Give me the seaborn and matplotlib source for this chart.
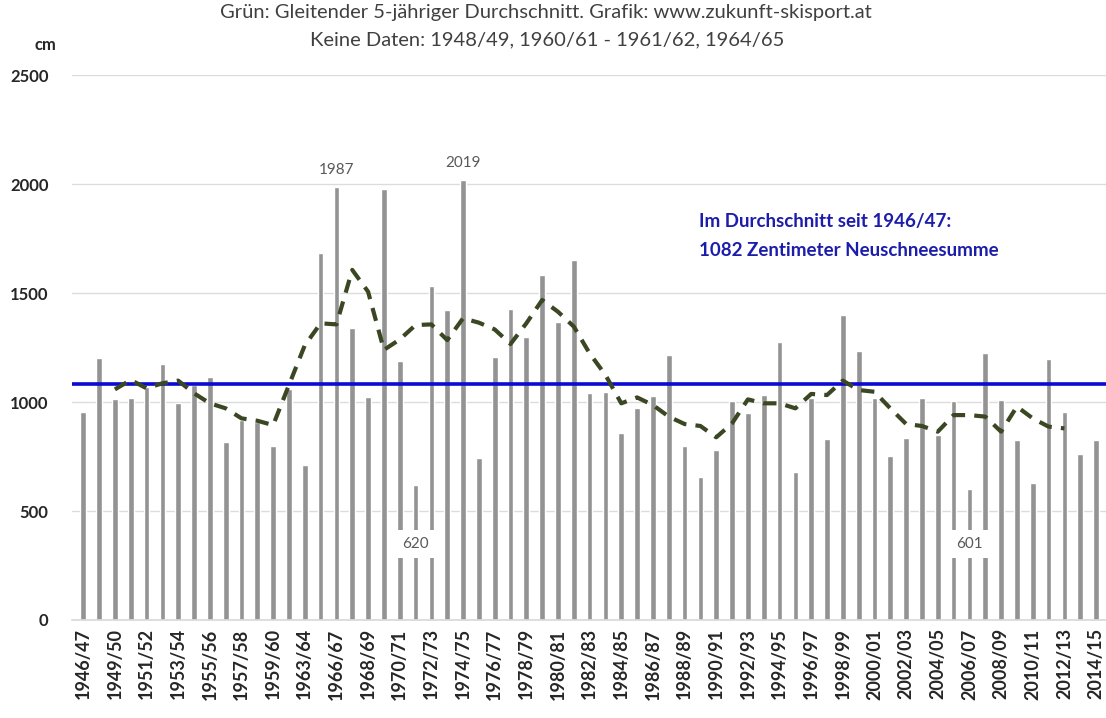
import numpy as np
import pandas as pd
import matplotlib
matplotlib.use("Agg")
import matplotlib.pyplot as plt
import seaborn as sns

# Seasons (no data for 1948/49, 1960/61, 1961/62, 1964/65)
seasons = [
    "1946/47", "1947/48", "1949/50", "1950/51", "1951/52", "1952/53", "1953/54",
    "1954/55", "1955/56", "1956/57", "1957/58", "1958/59", "1959/60", "1962/63",
    "1963/64", "1965/66", "1966/67", "1967/68", "1968/69", "1969/70", "1970/71",
    "1971/72", "1972/73", "1973/74", "1974/75", "1975/76", "1976/77", "1977/78",
    "1978/79", "1979/80", "1980/81", "1981/82", "1982/83", "1983/84", "1984/85",
    "1985/86", "1986/87", "1987/88", "1988/89", "1989/90", "1990/91", "1991/92",
    "1992/93", "1993/94", "1994/95", "1995/96", "1996/97", "1997/98", "1998/99",
    "1999/00", "2000/01", "2001/02", "2002/03", "2003/04", "2004/05", "2005/06",
    "2006/07", "2007/08", "2008/09", "2009/10", "2010/11", "2011/12", "2012/13",
    "2013/14", "2014/15",
]

# Neuschneesumme per season in cm
snow = [
    956, 1200, 1012, 1017, 1070, 1174, 997, 1080, 1116, 818,
    917, 910, 798, 1060, 711, 1682, 1987, 1338, 1024, 1976,
    1188, 620, 1534, 1422, 2019, 742, 1208, 1425, 1300, 1583,
    1369, 1651, 1043, 1047, 856, 971, 1028, 1216, 798, 654,
    780, 1006, 948, 1032, 1277, 680, 1017, 829, 1399, 1235,
    1017, 752, 836, 1017, 849, 1005, 601, 1223, 1009, 826,
    630, 1196, 956, 761, 826,
]

# Gleitender 5-jaehriger Durchschnitt, 1949/50 .. 2012/13
avg_start = "1949/50"
avg_values = [
    1058, 1101, 1063, 1086, 1098, 1040, 994, 971, 925, 914,
    894, 1078, 1260, 1361, 1356, 1606, 1506, 1239, 1287, 1353,
    1356, 1284, 1384, 1364, 1333, 1266, 1361, 1468, 1414, 1346,
    1223, 1124, 994, 1021, 986, 933, 899, 890, 838, 902,
    1012, 994, 994, 971, 1037, 1032, 1098, 1055, 1047, 971,
    899, 890, 864, 940, 940, 933, 864, 979, 925, 887,
    879,
]

mean_all = 1082
label_seasons = ["1966/67", "1974/75"]
box_seasons = ["1971/72", "2006/07"]

df = pd.DataFrame({"season": seasons, "snow": snow})
i0 = seasons.index(avg_start)
avg_df = pd.DataFrame({"pos": np.arange(i0, i0 + len(avg_values)), "avg": avg_values})

sns.set_theme(style="white")
plt.rcParams["font.family"] = ["Lato", "DejaVu Sans"]

fig = plt.figure(figsize=(11.06, 7.18), dpi=100)
ax = fig.add_axes([0.0651, 0.1365, 0.9349, 0.759])

sns.barplot(data=df, x="season", y="snow", order=seasons, color="#939393",
            saturation=1, width=0.36, ax=ax, zorder=2)
sns.lineplot(data=avg_df, x="pos", y="avg", ax=ax, color="#3b4722",
             linewidth=3, linestyle=(0, (3.2, 2.2)), zorder=4)
ax.axhline(mean_all, color="#0a0ad2", linewidth=2.6, zorder=3)

ax.set_ylim(0, 2500)
ax.set_xlim(-0.71, 64.63)
ax.set_yticks([0, 500, 1000, 1500, 2000, 2500])
ax.yaxis.grid(True, color="#dcdcdc", linewidth=1)
ax.set_axisbelow(True)
ax.set_xticks(range(0, len(seasons), 2))
ax.set_xticklabels(seasons[::2], rotation=90, fontsize=13, fontweight="bold")
ax.tick_params(axis="y", labelsize=12, pad=17, length=0)
ax.tick_params(axis="x", pad=6, length=0)
for t in ax.get_yticklabels():
    t.set_fontweight("bold")
ax.set_xlabel("")
ax.set_ylabel("")
for s in ["top", "right", "left"]:
    ax.spines[s].set_visible(False)
ax.spines["bottom"].set_color("#d9d9d9")

for s in label_seasons:
    i = seasons.index(s)
    ax.text(i, snow[i] + 45, str(snow[i]), ha="center", va="bottom",
            fontsize=11, color="#595959")
for s in box_seasons:
    i = seasons.index(s)
    ax.text(i, 350, str(snow[i]), ha="center", va="center", fontsize=11,
            color="#595959", zorder=5,
            bbox=dict(boxstyle="square,pad=0.45", fc="white", ec="none"))

ax.text(38.9, 1830, "Im Durchschnitt seit 1946/47:", ha="left", va="center",
        fontsize=13.5, fontweight="bold", color="#1d1dab")
ax.text(38.9, 1693, f"{mean_all} Zentimeter Neuschneesumme", ha="left", va="center",
        fontsize=13.5, fontweight="bold", color="#1d1dab")

fig.text(0.494, 0.983, "Grün: Gleitender 5-jähriger Durchschnitt. Grafik: www.zukunft-skisport.at",
         ha="center", va="center", fontsize=14.5, color="#404040")
fig.text(0.495, 0.944, "Keine Daten: 1948/49, 1960/61 - 1961/62, 1964/65",
         ha="center", va="center", fontsize=14.5, color="#404040")
fig.text(0.041, 0.937, "cm", ha="center", va="center", fontsize=12,
         fontweight="bold", color="#262626")

fig.savefig("out.png", dpi=100, facecolor="white")
